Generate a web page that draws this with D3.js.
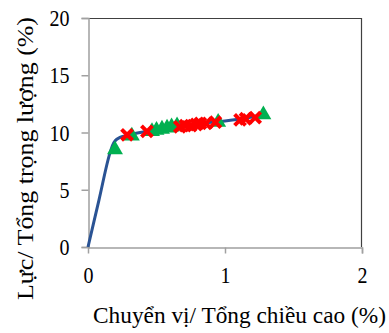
<!DOCTYPE html>
<html><head><meta charset="utf-8">
<script src="https://cdn.jsdelivr.net/npm/d3@7"></script>
<style>body{margin:0;background:#fff}svg{display:block}</style>
</head><body>
<script>
const xTicks = [0, 1, 2];
const yTicks = [0, 5, 10, 15, 20];
const lineX = [0, 0.08, 0.16, 0.18, 0.2, 0.23, 0.27, 0.32, 0.45, 0.65, 0.85, 1.0, 1.1, 1.28];
const lineY = [0, 4.1, 8.2, 8.9, 9.3, 9.55, 9.7, 9.85, 10.15, 10.5, 10.85, 11.0, 11.15, 11.55];
const greenX = [0.197, 0.32, 0.467, 0.50, 0.54, 0.577, 0.61, 0.65, 0.95, 1.28];
const greenY = [8.5, 9.7, 10.1, 10.2, 10.3, 10.4, 10.5, 10.6, 10.9, 11.55];
const redX = [0.285, 0.43, 0.67, 0.71, 0.75, 0.79, 0.82, 0.86, 0.93, 1.11, 1.15, 1.22];
const redY = [9.8, 10.1, 10.5, 10.6, 10.6, 10.7, 10.8, 10.8, 10.9, 11.1, 11.2, 11.3];
const xTitle = "Chuyển vị/ Tổng chiều cao (%)";
const yTitle = "Lực/ Tổng trọng lượng (%)";

const W = 389, H = 333;
const FONT = "'Liberation Serif', 'Times New Roman', serif";
const svg = d3.select("body").append("svg").attr("width", W).attr("height", H);
const x = d3.scaleLinear().domain([0, 2]).range([88, 362]);
const y = d3.scaleLinear().domain([0, 20]).range([247, 18]);

svg.append("line").attr("x1", 88).attr("x2", 362).attr("y1", 18.5).attr("y2", 18.5).attr("stroke", "#404040").attr("stroke-width", 1.2);
svg.append("line").attr("x1", 361.5).attr("x2", 361.5).attr("y1", 18).attr("y2", 247).attr("stroke", "#404040").attr("stroke-width", 1.2);

const gx = svg.append("g").attr("transform", "translate(0,247.5)")
  .call(d3.axisBottom(x).tickValues(xTicks).tickSize(6).tickPadding(12).tickFormat(d3.format("d")));
const gy = svg.append("g").attr("transform", "translate(88.5,0)")
  .call(d3.axisLeft(y).tickValues(yTicks).tickSize(7).tickPadding(12).tickFormat(d3.format("d")));
[gx, gy].forEach(g => {
  g.attr("font-family", null);
  g.select(".domain").attr("stroke", "#a0a0a0").attr("stroke-width", 1.5);
  g.selectAll(".tick line").attr("stroke", "#a0a0a0").attr("stroke-width", 1.5);
  g.selectAll(".tick text").style("font-family", FONT).style("font-size", "24px").attr("fill", "#000")
    .attr("textLength", d => String(d).length * 10).attr("lengthAdjust", "spacingAndGlyphs");
});
gx.select(".tick line").remove();

const pts = lineX.map((d, i) => [d, lineY[i]]);
svg.append("path").datum(pts)
  .attr("d", d3.line().x(d => x(d[0])).y(d => y(d[1])).curve(d3.curveMonotoneX))
  .attr("fill", "none").attr("stroke", "#2a5394").attr("stroke-width", 3);

const tri = d3.symbol().type(d3.symbolTriangle).size(110);
svg.append("g").selectAll("path").data(greenX.map((d, i) => [d, greenY[i]])).join("path")
  .attr("d", tri).attr("transform", d => `translate(${x(d[0])},${y(d[1])})`).attr("fill", "#00b050");
const cross = d3.symbol().type(d3.symbolX).size(80);
svg.append("g").selectAll("path").data(redX.map((d, i) => [d, redY[i]])).join("path")
  .attr("d", cross).attr("transform", d => `translate(${x(d[0])},${y(d[1])})`)
  .attr("fill", "none").attr("stroke", "#ff0000").attr("stroke-width", 4);

svg.append("text").attr("x", 93).attr("y", 323).style("font-family", FONT).style("font-size", "23px")
  .attr("textLength", 293).attr("lengthAdjust", "spacingAndGlyphs").text(xTitle);
svg.append("text").attr("transform", "translate(33,300) rotate(-90)").style("font-family", FONT).style("font-size", "23px")
  .attr("textLength", 283).attr("lengthAdjust", "spacingAndGlyphs").text(yTitle);
</script>
</body></html>
